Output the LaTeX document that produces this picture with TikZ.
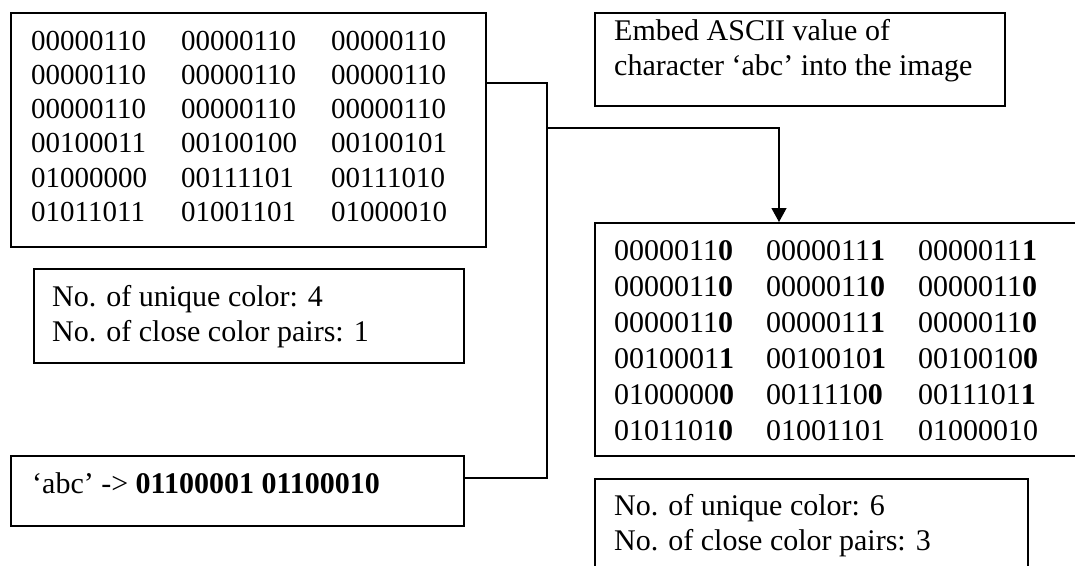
\documentclass[tikz,border=0pt]{standalone}
\usepackage{fontspec}
\setmainfont{Liberation Serif}
\usetikzlibrary{arrows.meta}
\tikzset{
  box/.style={draw, line width=1.5pt, inner sep=0pt, anchor=north west},
  conn/.style={line width=1.3pt},
  txt/.style={anchor=base west, inner sep=0pt, font=\fontsize{30}{35}\selectfont},
  lgridtxt/.style={anchor=base west, inner sep=0pt, font=\fontsize{29}{34.3}\selectfont},
  rgridtxt/.style={anchor=base west, inner sep=0pt, font=\fontsize{30}{36}\selectfont},
}
\newcommand{\bz}{\textbf{0}}
\newcommand{\bo}{\textbf{1}}
\begin{document}
\begin{tikzpicture}[x=1pt,y=-1pt]
\useasboundingbox (0,0) rectangle (1075,565);
\clip (0,0) rectangle (1075,565);

% boxes
\node[box, minimum width=475pt, minimum height=234pt] (orig) at (10,12) {};
\node[box, minimum width=410pt, minimum height=93pt] (embed) at (594,12) {};
\node[box, minimum width=506pt, minimum height=233pt] (mod) at (594,222) {};
\node[box, minimum width=430pt, minimum height=94pt] (stat1) at (33,268) {};
\node[box, minimum width=453pt, minimum height=70pt] (abc) at (10,455) {};
\node[box, minimum width=433pt, minimum height=130pt] (stat2) at (594,478) {};

% texts
\node[lgridtxt] (origtxt) at (31,50) {\begin{tabular}[t]{@{}p{150pt}@{}p{150pt}@{}l@{}}
00000110 & 00000110 & 00000110\\
00000110 & 00000110 & 00000110\\
00000110 & 00000110 & 00000110\\
00100011 & 00100100 & 00100101\\
01000000 & 00111101 & 00111010\\
01011011 & 01001101 & 01000010
\end{tabular}};

\node[rgridtxt] (modtxt) at (614,260) {\begin{tabular}[t]{@{}p{152pt}@{}p{152pt}@{}l@{}}
0000011\bz & 0000011\bo & 0000011\bo\\
0000011\bz & 0000011\bz & 0000011\bz\\
0000011\bz & 0000011\bo & 0000011\bz\\
0010001\bo & 0010010\bo & 0010010\bz\\
0100000\bz & 0011110\bz & 0011101\bo\\
0101101\bz & 01001101 & 01000010
\end{tabular}};

\node[txt] (embedtxt) at (614,40) {\begin{tabular}[t]{@{}l@{}}
Embed ASCII value of\\
character ‘abc’ into the image
\end{tabular}};

\node[txt] (stat1txt) at (52,306.7) {\begin{tabular}[t]{@{}l@{}}
No. of unique color: 4\\
No. of close color pairs: 1
\end{tabular}};

\node[txt] (abctxt) at (32,493) {‘abc’ -> \textbf{01100001 01100010}};

\node[txt] (stat2txt) at (614,515) {\begin{tabular}[t]{@{}l@{}}
No. of unique color: 6\\
No. of close color pairs: 3
\end{tabular}};

% connectors
\coordinate (jt) at (547,83);
\coordinate (jm) at (547,128);
\coordinate (jb) at (547,478);
\coordinate (ja) at (779,128);
\draw[conn] (orig.east |- jt) -- (jt) -- (jb) -- (abc.east |- jb);
\draw[conn, -{Triangle[width=15pt,length=14pt]}] (jm) -- (ja) -- (mod.north -| ja);
\end{tikzpicture}
\end{document}
